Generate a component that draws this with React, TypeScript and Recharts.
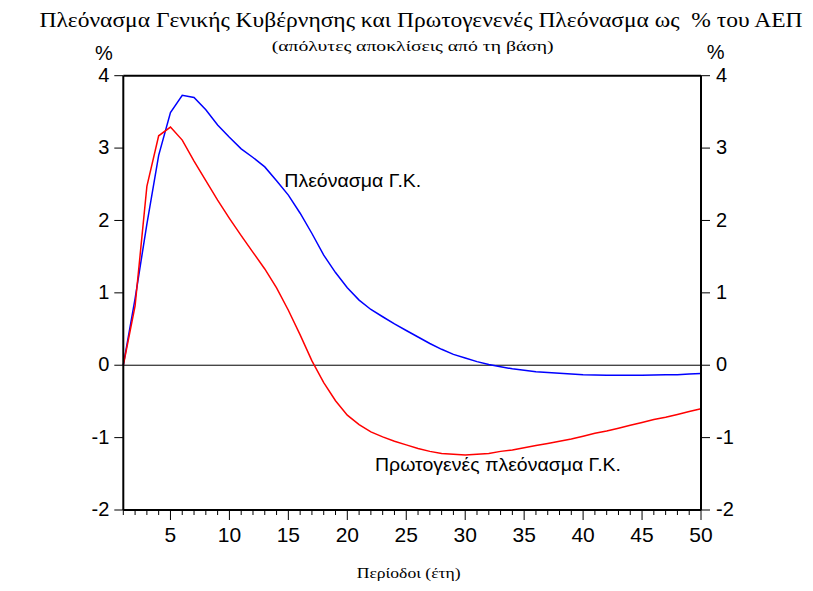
import React from "react";
import {LineChart, Line, XAxis, YAxis, ReferenceLine} from "recharts";

const periods = [
  1, 2, 3, 4, 5, 6, 7, 8, 9, 10, 11, 12, 13, 14, 15, 16, 17, 18, 19, 20, 21, 22, 23, 24, 25,
  26, 27, 28, 29, 30, 31, 32, 33, 34, 35, 36, 37, 38, 39, 40, 41, 42, 43, 44, 45, 46, 47, 48, 49, 50,
];
// Πλεόνασμα Γ.Κ.
const surplus = [
  0, 0.92, 1.95, 2.9, 3.49, 3.73, 3.7, 3.53, 3.32, 3.15, 2.99, 2.87, 2.74, 2.55, 2.35, 2.1, 1.82, 1.52,
  1.28, 1.07, 0.9, 0.77, 0.67, 0.57, 0.48, 0.39, 0.3, 0.22, 0.15, 0.1, 0.05, 0.01, -0.02, -0.05, -0.07,
  -0.09, -0.1, -0.11, -0.12, -0.13, -0.135, -0.14, -0.14, -0.14, -0.14, -0.135, -0.13, -0.13, -0.12, -0.115,
];
// Πρωτογενές πλεόνασμα Γ.Κ.
const primary = [
  0, 0.82, 2.47, 3.17, 3.29, 3.11, 2.82, 2.55, 2.28, 2.03, 1.79, 1.56, 1.33, 1.07, 0.76, 0.42, 0.06, -0.24,
  -0.49, -0.69, -0.82, -0.92, -0.99, -1.05, -1.1, -1.15, -1.19, -1.22, -1.23, -1.24, -1.23, -1.22, -1.19,
  -1.17, -1.14, -1.11, -1.08, -1.05, -1.02, -0.98, -0.94, -0.91, -0.87, -0.83, -0.79, -0.75, -0.72, -0.68,
  -0.64, -0.6,
];
const yTicks = [-2, -1, 0, 1, 2, 3, 4];

const data = periods.map((p, i) => ({period: p, surplus: surplus[i], primary: primary[i]}));

const sans = "Liberation Sans, Arial, sans-serif";
const serif = "Liberation Serif, Times New Roman, serif";

function PeriodTick(props: any) {
  const {x, y, payload} = props;
  const major = payload.value % 5 === 0;
  return (
    <g>
      <line x1={x} x2={x} y1={y} y2={y + (major ? 10 : 5)} stroke="#000" strokeWidth={1}/>
      {major && (
        <text x={x} y={y + 32} textAnchor="middle" fontSize={21} fontFamily={sans} fill="#000">
          {payload.value}
        </text>
      )}
    </g>
  );
}

export default function App() {
  return (
    <div style={{position: "relative", width: 805, height: 583}}>
      <LineChart width={805} height={583} data={data}
                 margin={{top: 67.7, right: 52, bottom: 41, left: 55.3}}>
        <XAxis dataKey="period" type="number" domain={[1, 50]} ticks={periods} interval={0}
               tickSize={0} tickMargin={0} tickLine={false} tick={<PeriodTick/>} height={40}
               axisLine={{stroke: "#000", strokeWidth: 2}}/>
        <YAxis yAxisId="left" domain={[-2, 4]} ticks={yTicks} width={60} tickSize={9} tickMargin={5}
               allowDataOverflow axisLine={{stroke: "#000", strokeWidth: 2}} tickLine={{stroke: "#000"}}
               tick={{fill: "#000", fontSize: 20, fontFamily: sans, dy: -1}}/>
        <YAxis yAxisId="right" orientation="right" domain={[-2, 4]} ticks={yTicks} width={60} tickSize={9}
               allowDataOverflow includeHidden tickMargin={6} axisLine={{stroke: "#000", strokeWidth: 2}}
               tickLine={{stroke: "#000"}} tick={{fill: "#000", fontSize: 20, fontFamily: sans, dy: -1}}/>
        <ReferenceLine yAxisId="left" y={4} stroke="#000" strokeWidth={2}/>
        <ReferenceLine yAxisId="left" y={0} stroke="#000" strokeWidth={1}/>
        <Line yAxisId="left" dataKey="surplus" stroke="#0000ff" strokeWidth={1.5} dot={false}
              type="linear" isAnimationActive={false}/>
        <Line yAxisId="left" dataKey="primary" stroke="#ff0000" strokeWidth={1.5} dot={false}
              type="linear" isAnimationActive={false}/>
        <Line yAxisId="right" dataKey="surplus" hide legendType="none" dot={false}
              isAnimationActive={false}/>
      </LineChart>
      <svg width={805} height={583} style={{position: "absolute", left: 0, top: 0, pointerEvents: "none"}}>
        <text x={31.5} y={18.5} fontSize={20} fontFamily={serif} textLength={763} lengthAdjust="spacingAndGlyphs">
          {"Πλεόνασμα Γενικής Κυβέρνησης και Πρωτογενενές Πλεόνασμα ως\u00a0\u00a0% του ΑΕΠ"}
        </text>
        <text x={263.7} y={42.5} fontSize={15} fontFamily={serif} textLength={282} lengthAdjust="spacingAndGlyphs">
          (απόλυτες αποκλίσεις από τη βάση)
        </text>
        <text x={87} y={51.5} fontSize={20} fontFamily={sans}>%</text>
        <text x={698.7} y={50.5} fontSize={20} fontFamily={sans}>%</text>
        <text x={276.3} y={178.7} fontSize={19} fontFamily={sans} textLength={137} lengthAdjust="spacingAndGlyphs">
          Πλεόνασμα Γ.Κ.
        </text>
        <text x={367} y={462.7} fontSize={19} fontFamily={sans} textLength={246} lengthAdjust="spacingAndGlyphs">
          Πρωτογενές πλεόνασμα Γ.Κ.
        </text>
        <text x={348.7} y={570} fontSize={15} fontFamily={serif} textLength={104} lengthAdjust="spacingAndGlyphs">
          Περίοδοι (έτη)
        </text>
      </svg>
    </div>
  );
}
